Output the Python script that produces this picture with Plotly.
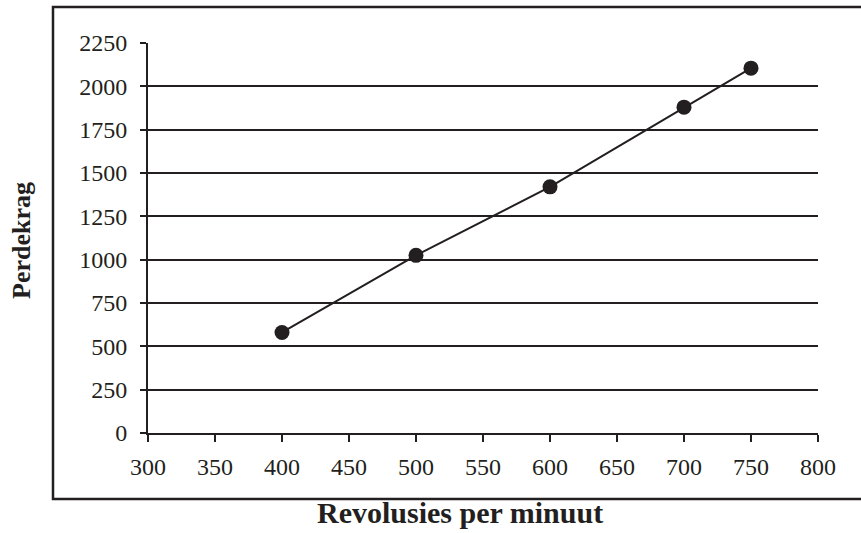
import plotly.graph_objects as go

# data
rpm = [400, 500, 600, 700, 750]
perdekrag = [580, 1025, 1420, 1880, 2105]
x_ticks = [300, 350, 400, 450, 500, 550, 600, 650, 700, 750, 800]
y_ticks = [0, 250, 500, 750, 1000, 1250, 1500, 1750, 2000, 2250]

ink = "#231f20"
serif = "Liberation Serif, Times New Roman, serif"

fig = go.Figure(go.Scatter(
    x=rpm, y=perdekrag, mode="lines+markers",
    line=dict(color=ink, width=2),
    marker=dict(color=ink, size=15),
    showlegend=False,
))

fig.update_layout(
    width=861, height=533,
    margin=dict(l=148, r=43, t=43, b=100),
    paper_bgcolor="white", plot_bgcolor="white",
    font=dict(family=serif, color=ink, size=24),
    xaxis=dict(
        range=[300, 800], tickvals=x_ticks, showgrid=False, zeroline=False,
        showline=True, linecolor=ink, linewidth=2,
        ticks="outside", ticklen=7, tickwidth=2, tickcolor=ink,
        ticklabelstandoff=4,
    ),
    yaxis=dict(
        range=[0, 2250], tickvals=y_ticks, showgrid=True, gridcolor=ink,
        gridwidth=2, zeroline=False,
        showline=True, linecolor=ink, linewidth=2,
        ticks="outside", ticklen=6, tickwidth=2, tickcolor=ink,
        ticklabelstandoff=8,
    ),
    shapes=[dict(
        type="rect", xref="paper", yref="paper",
        x0=-0.1418, x1=1.07, y0=-0.1692, y1=1.0923,
        line=dict(color=ink, width=2.5), layer="below",
    )],
    annotations=[
        dict(text="<b>Revolusies per minuut</b>", xref="paper", yref="paper",
             x=(460 - 148) / 670, y=(433 - 512) / 390, showarrow=False,
             xanchor="center", yanchor="middle",
             font=dict(family=serif, size=30, color=ink)),
        dict(text="<b>Perdekrag</b>", xref="paper", yref="paper",
             x=(21 - 148) / 670, y=(433 - 241) / 390, showarrow=False,
             textangle=-90, xanchor="center", yanchor="middle",
             font=dict(family=serif, size=26, color=ink)),
    ],
)

# drop the default page margin so the chart sits at the window's corner
fig.write_html("out.html", config={"displayModeBar": False},
               post_script="document.body.style.margin='0';")
